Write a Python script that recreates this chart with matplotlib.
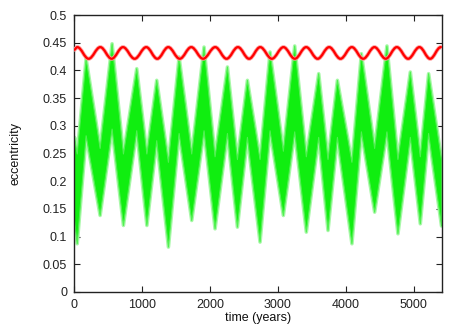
import matplotlib
matplotlib.use("Agg")
import matplotlib.pyplot as plt
from matplotlib.path import Path
from matplotlib.patches import PathPatch
import numpy as np

# ---- data ----
# green band (envelope of the dense oscillation): troughs and peaks
green_start_t = 0
green_start_low = 0.13
green_start_high = 0.28
green_trough_t = [40, 377, 720, 1065, 1382, 1725, 2068, 2397, 2730, 3073, 3411, 3730, 4082, 4416, 4759, 5088, 5400]
green_trough_low = [0.088, 0.139, 0.121, 0.121, 0.082, 0.130, 0.115, 0.118, 0.091, 0.139, 0.109, 0.112, 0.088, 0.145, 0.106, 0.124, 0.120]
green_trough_high = [0.25, 0.26, 0.25, 0.25, 0.235, 0.25, 0.245, 0.24, 0.24, 0.255, 0.245, 0.24, 0.235, 0.26, 0.24, 0.245, 0.24]
green_peak_t = [171, 553, 916, 1210, 1539, 1906, 2250, 2544, 2877, 3240, 3593, 3868, 4221, 4597, 4941, 5210]
green_peak_high = [0.422, 0.449, 0.404, 0.383, 0.425, 0.443, 0.407, 0.383, 0.434, 0.445, 0.395, 0.383, 0.431, 0.445, 0.398, 0.395]
green_peak_low = [0.283, 0.295, 0.292, 0.274, 0.287, 0.292, 0.287, 0.280, 0.292, 0.290, 0.280, 0.280, 0.290, 0.290, 0.280, 0.287]

# red curve: peaks and troughs
red_start_t = 0
red_start_e = 0.437
red_peak_t = [49, 387, 721, 1063, 1387, 1725, 2078, 2412, 2740, 3082, 3416, 3754, 4088, 4421, 4750, 5082, 5397]
red_peak_e = [0.442] * 17
red_trough_t = [215, 554, 892, 1225, 1556, 1900, 2245, 2576, 2911, 3249, 3585, 3921, 4255, 4586, 4916, 5240]
red_trough_e = [0.421] * 16
red_end_t = 5410
red_end_e = 0.441

x_ticks = [0, 1000, 2000, 3000, 4000, 5000]
y_ticks = [0, 0.05, 0.1, 0.15, 0.2, 0.25, 0.3, 0.35, 0.4, 0.45, 0.5]
y_tick_labels = ["0", "0.05", "0.1", "0.15", "0.2", "0.25", "0.3", "0.35", "0.4", "0.45", "0.5"]

# ---- assemble ----
gt = [green_start_t] + green_trough_t + green_peak_t
glo = [green_start_low] + green_trough_low + green_peak_low
ghi = [green_start_high] + green_trough_high + green_peak_high
order = np.argsort(gt)
gt = np.array(gt)[order]; glo = np.array(glo)[order]; ghi = np.array(ghi)[order]

rt = [red_start_t] + red_peak_t + red_trough_t + [red_end_t]
re = [red_start_e] + red_peak_e + red_trough_e + [red_end_e]
order = np.argsort(rt)
rt = np.array(rt)[order]; re = np.array(re)[order]

plt.rcParams['font.family'] = ['Liberation Sans', 'DejaVu Sans']
fig = plt.figure(figsize=(4.63, 3.31), dpi=100)
ax = fig.add_axes([74/463, 39/331, (441.7-74)/463, (292-15)/331])

# fuzzy halo + solid body for the green band
ax.fill_between(gt, glo, ghi, facecolor='#9af89a', lw=2.6, edgecolor='#a8f8a8', zorder=2)
ax.fill_between(gt, glo, ghi, facecolor='#10ee10', lw=0.8, edgecolor='#50f050', zorder=2)

# smooth red curve: cubic Bezier segments between consecutive extremes
verts = [(rt[0], re[0])]
codes = [Path.MOVETO]
for i in range(len(rt) - 1):
    dt = rt[i + 1] - rt[i]
    verts += [(rt[i] + 0.364 * dt, re[i]), (rt[i + 1] - 0.364 * dt, re[i + 1]), (rt[i + 1], re[i + 1])]
    codes += [Path.CURVE4] * 3
red_path = Path(verts, codes)
ax.add_patch(PathPatch(red_path, facecolor='none', edgecolor='#ff9a9a', lw=2.8, zorder=3))
ax.add_patch(PathPatch(red_path, facecolor='none', edgecolor='#ff0000', lw=1.6, zorder=3))

ax.set_xlim(0, 5410)
ax.set_ylim(0, 0.5)
ax.set_xticks(x_ticks)
ax.set_yticks(y_ticks)
ax.set_yticklabels(y_tick_labels)
ax.tick_params(direction='in', length=4.2, width=0.8, top=True, right=True,
               labelsize=9, colors='#222222', pad=5)
for s in ax.spines.values():
    s.set_linewidth(1.0)
    s.set_color('#222222')
ax.set_xlabel('time (years)', fontsize=9, labelpad=1, color='#111111')
ax.set_ylabel('eccentricity', fontsize=9, labelpad=15, color='#111111')

fig.savefig('out.png', dpi=100)
